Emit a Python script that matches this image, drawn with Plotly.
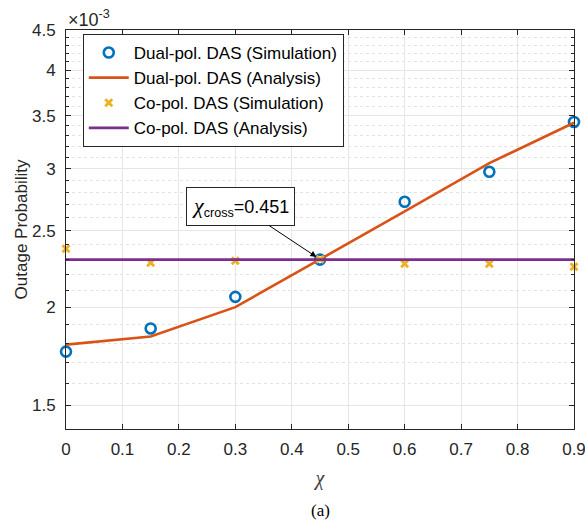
import math
import plotly.graph_objects as go

# Data (outage probability in units of 1e-3)
chi = [0, 0.15, 0.3, 0.45, 0.6, 0.75, 0.9]
dual_sim = [1.756, 1.879, 2.061, 2.298, 2.722, 2.972, 3.438]
dual_ana = [1.792, 1.835, 2.000, 2.298, 2.646, 3.048, 3.430]
co_sim = [2.373, 2.278, 2.290, 2.300, 2.270, 2.270, 2.251]
co_ana = [2.298] * 7
chi_cross = 0.451
p_cross = 2.298

y_major = [1.5, 2, 2.5, 3, 3.5, 4, 4.5]
y_major_text = ["1.5", "2", "2.5", "3", "3.5", "4", "4.5"]
y_minor = [round(1.4 + 0.1 * i, 1) for i in range(32)]
x_ticks = [0, 0.1, 0.2, 0.3, 0.4, 0.5, 0.6, 0.7, 0.8, 0.9]

BLUE = "#0072BD"
ORANGE = "#D95319"
YELLOW = "#EDB120"
PURPLE = "#7E2F8E"
AX = "#262626"
FONT = "Liberation Sans, Arial, sans-serif"
SERIF = "Liberation Serif, Times New Roman, serif"

fig = go.Figure()
fig.add_trace(go.Scatter(x=chi, y=dual_sim, mode="markers", name="Dual-pol. DAS (Simulation)",
                         marker=dict(symbol="circle-open", size=10, color=BLUE, line=dict(width=2.6, color=BLUE)),
                         cliponaxis=False))
fig.add_trace(go.Scatter(x=chi, y=dual_ana, mode="lines", name="Dual-pol. DAS (Analysis)",
                         line=dict(color=ORANGE, width=2.6)))
fig.add_trace(go.Scatter(x=chi, y=co_sim, mode="markers", name="Co-pol. DAS (Simulation)",
                         marker=dict(symbol="x-thin-open", size=7, color=YELLOW, line=dict(width=2.8, color=YELLOW)),
                         cliponaxis=False))
fig.add_trace(go.Scatter(x=chi, y=co_ana, mode="lines", name="Co-pol. DAS (Analysis)",
                         line=dict(color=PURPLE, width=2.6)))

fig.update_layout(
    width=585, height=523,
    margin=dict(l=66, r=11, t=30, b=94),
    paper_bgcolor="white", plot_bgcolor="white",
    font=dict(family=FONT, size=17, color=AX),
    showlegend=True,
    legend=dict(x=0.033, y=0.99, xanchor="left", yanchor="top",
                bgcolor="white", bordercolor=AX, borderwidth=1,
                font=dict(family=FONT, size=17, color="#000000"),
                itemwidth=40, tracegroupgap=0),
    xaxis=dict(range=[0, 0.9], tickvals=x_ticks, ticktext=[("%g" % v) for v in x_ticks],
               automargin=False, ticklabeloverflow="allow",
               showline=True, linecolor=AX, linewidth=1, mirror="allticks",
               ticks="inside", ticklen=5, tickcolor=AX, ticklabelstandoff=5,
               showgrid=True, gridcolor="#E6E6E6", gridwidth=1, zeroline=False,
               tickfont=dict(size=17, color=AX),
               title=dict(text="<i>χ</i>", font=dict(family=SERIF, size=20, color="#404040"), standoff=12)),
    yaxis=dict(type="log", range=[math.log10(1.4), math.log10(4.5)],
               tickvals=y_major, ticktext=y_major_text,
               automargin=False, ticklabeloverflow="allow",
               showline=True, linecolor=AX, linewidth=1, mirror="allticks",
               ticks="inside", ticklen=5, tickcolor=AX, ticklabelstandoff=6,
               showgrid=True, gridcolor="#E6E6E6", gridwidth=1, zeroline=False,
               tickfont=dict(size=17, color=AX),
               minor=dict(tickmode="array", tickvals=y_minor, ticks="inside", ticklen=3,
                          tickcolor=AX, showgrid=True, gridcolor="#E3E3E3", griddash="dot", gridwidth=1),
               title=dict(text="Outage Probability", font=dict(size=17, color=AX), standoff=0)),
)

fig.add_annotation(x=0, y=1.0, xref="paper", yref="paper", xanchor="left", yanchor="bottom",
                   text="×10<sup>-3</sup>", showarrow=False, yshift=-2,
                   font=dict(family=FONT, size=18, color=AX))

fig.add_annotation(x=chi_cross, y=math.log10(p_cross), xref="x", yref="y",
                   text="<span style=\"font-family:Liberation Serif;font-style:italic;font-size:22px\">χ</span><sub>cross</sub>=0.451",
                   showarrow=True, arrowhead=2, arrowsize=1.2, arrowwidth=1, arrowcolor="#000000",
                   ax=-80, ay=-53, standoff=5,
                   bgcolor="white", bordercolor=AX, borderwidth=1, borderpad=5,
                   font=dict(family=FONT, size=18, color="#000000"))

fig.add_annotation(x=0.5, y=0, xref="paper", yref="paper", yshift=-81, yanchor="middle",
                   text="(a)", showarrow=False,
                   font=dict(family=SERIF, size=17, color="#000000"))

fig.write_html("out.html")
